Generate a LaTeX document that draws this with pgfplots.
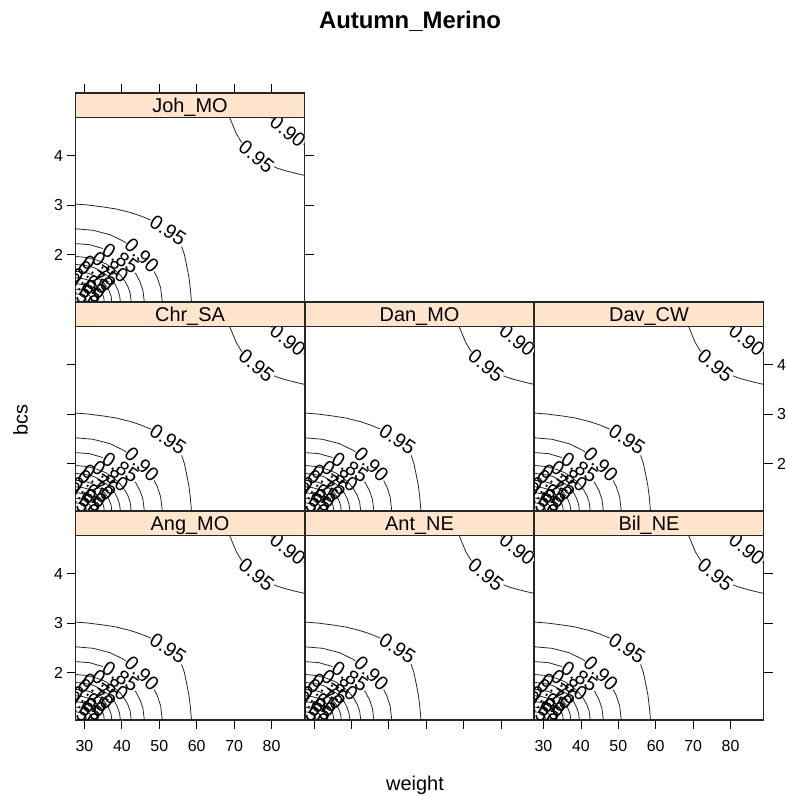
\documentclass[border=0pt]{standalone}
\usepackage{fontspec}
\setmainfont{Liberation Sans}
\usepackage{pgfplots}
\pgfplotsset{compat=1.18}
\definecolor{stripbg}{HTML}{FFE5CC}

\tikzset{
  clab/.style={sloped, font=\fontsize{20}{20}\selectfont, inner sep=0.6bp, fill=white, text=black},
  clabn/.style={sloped, font=\fontsize{20}{20}\selectfont, inner sep=0.6bp, text=black},
}

\pgfplotsset{
  panel/.style={
    width=229bp, height=184.5bp, scale only axis, anchor=south west,
    xmin=27.6, xmax=88.8, ymin=1.04, ymax=4.77,
    xtick=\empty, ytick=\empty,
    tick align=outside, major tick length=9bp,
    tick style={black, line width=0.8bp},
    axis line style={line width=1.1bp, black!85},
    tick label style={font=\fontsize{16}{16}\selectfont},
    xticklabel style={yshift=-8bp},
    /pgf/number format/assume math mode=true,
  },
  strip/.style={
    width=229bp, height=24.5bp, scale only axis, anchor=south west,
    xmin=27.6, xmax=88.8, ymin=0, ymax=1,
    xtick=\empty, ytick=\empty,
    tick align=outside, major tick length=9bp,
    tick style={black, line width=0.8bp},
    axis line style={line width=1.1bp, black!85},
    axis background/.style={fill=stripbg},
  },
  % tick sets for the outer panel edges
  xbot/.style={xtick={30,40,50,60,70,80}, xtick pos=left, xticklabel pos=left},
  xbotnl/.style={xtick={30,40,50,60,70,80}, xtick pos=left, xticklabel={\mbox{}}},
  xtopnl/.style={xtick={30,40,50,60,70,80}, xtick pos=right, xticklabel={\mbox{}}},
  yleft/.style={ytick={2,3,4}, ytick pos=left, yticklabel pos=left},
  yleftnl/.style={ytick={2,3,4}, ytick pos=left, yticklabel={\mbox{}}},
  yboth/.style={ytick={2,3,4}, ytick pos=both, yticklabel pos=left},
  yright/.style={ytick={2,3,4}, ytick pos=right, yticklabel pos=right, yticklabel style={xshift=1bp}},
  yrightnl/.style={ytick={2,3,4}, ytick pos=right, yticklabel={\mbox{}}},
  cline/.style={black!85, line width=0.8bp, no markers},
}

% contour lines of the fitted surface, identical in every panel
\newcommand{\contourset}{%
  \addplot[cline] coordinates {(27.6,3.02) (31,3.00) (35.1,2.96) (38.5,2.92) (42.2,2.85) (45,2.78) (47.6,2.70) (50,2.60) (52.4,2.48) (54.5,2.35) (55.8,2.2) (56.7,2.0) (57.3,1.78) (57.9,1.55) (58.3,1.3) (58.6,1.04)} node[clab,pos=0.79] {0.95};
  \addplot[cline] coordinates {(68.8,4.77) (69.6,4.62) (70.6,4.44) (71.8,4.29) (73.3,4.16) (75.5,4.01) (77.5,3.89) (79.5,3.81) (81.7,3.74) (83.9,3.69) (86.5,3.64) (88.8,3.60)} node[clab,pos=0.36] {0.95};
  \addplot[cline] coordinates {(79.9,4.77) (81.2,4.68) (83,4.57) (85,4.45) (86.8,4.34) (88.8,4.22)} node[clab,pos=0.5] {0.90};
  \addplot[cline] coordinates {(27.6,2.52) (32.24,2.49) (36.88,2.40) (40.36,2.27) (43.84,2.09) (46.16,1.92) (48.02,1.74) (49.41,1.54) (50.34,1.33) (50.8,1.04)} node[clab,pos=0.76] {0.90};
  \addplot[cline] coordinates {(27.6,2.22) (31.28,2.20) (34.96,2.12) (37.72,2.02) (40.48,1.88) (42.32,1.74) (43.79,1.60) (44.9,1.44) (45.63,1.27) (46.0,1.04)} node[clab,pos=0.65] {0.85};
  \addplot[cline] coordinates {(27.6,1.96) (30.58,1.94) (33.56,1.88) (35.8,1.81) (38.03,1.69) (39.52,1.59) (40.71,1.47) (41.61,1.35) (42.2,1.22) (42.5,1.04)} node[clabn,pos=0.62] {0.80};
  \addplot[cline] coordinates {(27.6,1.80) (30.0,1.78) (32.4,1.74) (34.2,1.67) (36.0,1.58) (37.2,1.49) (38.16,1.40) (38.88,1.29) (39.36,1.18) (39.6,1.04)} node[clabn,pos=0.55] {0.75};
  \addplot[cline] coordinates {(27.6,1.66) (29.54,1.65) (31.48,1.61) (32.94,1.56) (34.39,1.48) (35.36,1.41) (36.14,1.33) (36.72,1.24) (37.11,1.16) (37.3,1.04)} node[clabn,pos=0.55] {0.70};
  \addplot[cline] coordinates {(27.6,1.53) (29.14,1.52) (30.68,1.49) (31.84,1.45) (32.99,1.39) (33.76,1.33) (34.38,1.27) (34.84,1.20) (35.15,1.13) (35.3,1.04)} node[clabn,pos=0.5] {0.65};
  \addplot[cline] coordinates {(27.6,1.41) (28.8,1.40) (30.0,1.38) (30.9,1.35) (31.8,1.30) (32.4,1.26) (32.88,1.21) (33.24,1.16) (33.48,1.11) (33.6,1.04)} node[clabn,pos=0.5] {0.60};
  \addplot[cline] coordinates {(27.6,1.30) (28.48,1.29) (29.36,1.28) (30.02,1.26) (30.68,1.22) (31.12,1.19) (31.47,1.16) (31.74,1.12) (31.91,1.08) (32.0,1.04)} node[clabn,pos=0.45] {0.55};
  \addplot[cline] coordinates {(27.6,1.20) (28.2,1.20) (28.8,1.19) (29.25,1.17) (29.7,1.15) (30.0,1.13) (30.24,1.11) (30.42,1.09) (30.54,1.06) (30.6,1.04)} node[clabn,pos=0.45] {0.50};
}

% #1,#2: lower left corner of the plot area; #3: strip text;
% #4: options of the plot area; #5: options of the strip
\newcommand{\panel}[5]{%
  \begin{axis}[panel, at={(#1bp,#2bp)}, #4]
    \contourset
  \end{axis}
  \begin{axis}[strip, at={(#1bp,#2bp+184.5bp)}, #5]
    \node[anchor=base, font=\fontsize{20}{20}\selectfont] at (rel axis cs:0.5,0.21) {#3};
  \end{axis}
}

\begin{document}
\begin{tikzpicture}
\useasboundingbox (0,0) rectangle (787bp,796bp);

% top row
\panel{75.5}{494}{Joh\_MO}{yboth}{xtopnl}
% middle row
\panel{75.5}{285}{Chr\_SA}{yleftnl}{}
\panel{305}{285}{Dan\_MO}{}{}
\panel{534.5}{285}{Dav\_CW}{yright}{}
% bottom row
\panel{75.5}{76}{Ang\_MO}{yleft,xbot}{}
\panel{305}{76}{Ant\_NE}{xbotnl}{}
\panel{534.5}{76}{Bil\_NE}{yrightnl,xbot}{}

\node[font=\bfseries\fontsize{24}{24}\selectfont] at (410bp,775bp) {Autumn\_Merino};
\node[rotate=90, font=\fontsize{20}{20}\selectfont] at (20.5bp,376bp) {bcs};
\node[font=\fontsize{20}{20}\selectfont] at (415bp,11bp) {weight};
\end{tikzpicture}
\end{document}
